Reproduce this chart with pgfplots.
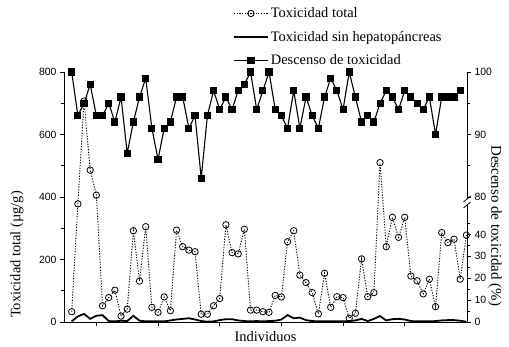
\documentclass[border=0pt]{standalone}
\usepackage{fontspec}
\setmainfont{Liberation Serif}
\setsansfont{Liberation Sans}
\usepackage{pgfplots}
\usepackage{pgfplotstable}
\pgfplotsset{compat=1.18}

\pgfplotstableread{
i tot sin
1 33 2
2 378 18
3 707 26
4 486 10
5 406 20
6 52 22
7 78 3
8 102 2
9 19 4
10 41 3
11 292 20
12 131 4
13 305 2
14 47 2
15 31 2
16 80 2
17 36 5
18 294 8
19 241 10
20 230 12
21 225 8
22 25 3
23 25 1
24 52 2
25 75 6
26 311 9
27 222 9
28 218 5
29 297 3
30 38 2
31 38 3
32 33 2
33 31 3
34 85 4
35 80 8
36 257 22
37 292 12
38 150 14
39 126 6
40 94 3
41 26 2
42 156 2
43 47 2
44 81 2
45 78 2
46 12 3
47 28 5
48 202 10
49 81 3
50 94 10
51 510 19
52 241 5
53 335 9
54 271 10
55 335 8
56 147 3
57 132 2
58 90 2
59 137 2
60 49 3
61 286 5
62 254 6
63 265 6
64 137 4
65 278 1
}\datatox

\pgfplotstableread{
i des
1 100
2 93
3 95
4 98
5 93
6 93
7 95
8 92
9 96
10 87
11 92
12 96
13 99
14 91
15 86
16 91
17 92
18 96
19 96
20 91
21 93
22 83
23 93
24 97
25 94
26 96
27 94
28 97
29 98
30 100
31 94
32 97
33 100
34 94
35 93
36 91
37 97
38 91
39 96
40 93
41 91
42 96
43 99
44 97
45 94
46 100
47 96
48 92
49 93
50 92
51 95
52 97
53 96
54 94
55 97
56 96
57 95
58 94
59 96
60 90
61 96
62 96
63 96
64 97
}\datades

\begin{document}
\begin{tikzpicture}
\useasboundingbox (0,0) rectangle (509bp,347bp);
\pgfplotsset{
  common/.style={
    at={(64bp,25bp)}, anchor=south west,
    scale only axis, width=403bp, height=250bp,
    xmin=-0.25, xmax=65.1,
    clip=false,
    tick align=outside,
    major tick length=4bp, minor tick length=2.5bp,
    tick style={line width=0.7bp, black},
    axis line style={line width=0.8bp, -},
    ticklabel style={font=\fontsize{10.5}{12}\selectfont\sffamily},
    /pgf/number format/assume math mode=true,
  }
}
\begin{axis}[
  common,
  ymin=0, ymax=800,
  axis x line*=bottom, axis y line*=left,
  xtick={5,15,25,35,45,55}, xticklabels={},
  ytick={0,200,400,600,800}, minor ytick={100,300,500,700},
  xlabel={Individuos},
  ylabel={Toxicidad total (µg/g)},
  every axis x label/.style={at={(rel axis cs:0.5,-0.038)}, anchor=north, inner sep=0pt, font=\fontsize{14.5}{16}\selectfont},
  every axis y label/.style={at={(rel axis cs:-0.1,0.27)}, anchor=south, rotate=90, inner sep=0pt, font=\fontsize{14.5}{16}\selectfont},
  legend style={at={(0.419,1.262)}, anchor=north west, draw=none, fill=none,
    font=\fontsize{14.5}{16}\selectfont, row sep=10bp, inner xsep=0pt, inner ysep=0pt,
    nodes={inner xsep=2bp, inner ysep=1bp}},
  legend cell align=left,
  legend image code/.code={\draw[mark repeat=2,mark phase=2] plot coordinates {(0bp,0bp)(17bp,0bp)(34bp,0bp)};},
]
\addplot[black, line width=0.9bp, dash pattern=on 1.2bp off 1.5bp, mark=o, mark size=3.2bp,
  mark options={solid, fill=white, line width=0.8bp}] table[x=i, y=tot] {\datatox};
\addlegendentry{Toxicidad total}
\addplot[black, line width=1.8bp, no marks] table[x=i, y=sin] {\datatox};
\addlegendentry{Toxicidad sin hepatopáncreas}
\addlegendimage{black, line width=1.1bp, mark=square*, mark size=3bp, mark options={solid}}
\addlegendentry{Descenso de toxicidad}
\end{axis}
\begin{axis}[
  common,
  ymin=60, ymax=100,
  axis x line=none, axis y line*=right,
  y axis line style={draw=none},
  ytick={60,63.5,67,70.5,74,80,90,100},
  yticklabels={0,10,20,30,40,80,90,100},
  minor ytick={61.75,65.25,68.75,72.25,75.75,85,95},
  ylabel={Descenso de toxicidad (\%)},
  every axis y label/.style={at={(rel axis cs:1.052,0.385)}, anchor=south, rotate=-90, inner sep=0pt, font=\fontsize{15}{17}\selectfont},
]
\addplot[black, line width=1.1bp, mark=square*, mark size=3bp, mark options={solid}] table[x=i, y=des] {\datades};
\draw[line width=0.8bp] (rel axis cs:1,0) -- (rel axis cs:1,0.468);
\draw[line width=0.8bp] (rel axis cs:1,0.492) -- (rel axis cs:1,1);
\draw[line width=0.8bp] (rel axis cs:1,0.468) ++(-3.5bp,-3bp) -- ++(7bp,6bp);
\draw[line width=0.8bp] (rel axis cs:1,0.492) ++(-3.5bp,-3bp) -- ++(7bp,6bp);
\end{axis}
\end{tikzpicture}
\end{document}
